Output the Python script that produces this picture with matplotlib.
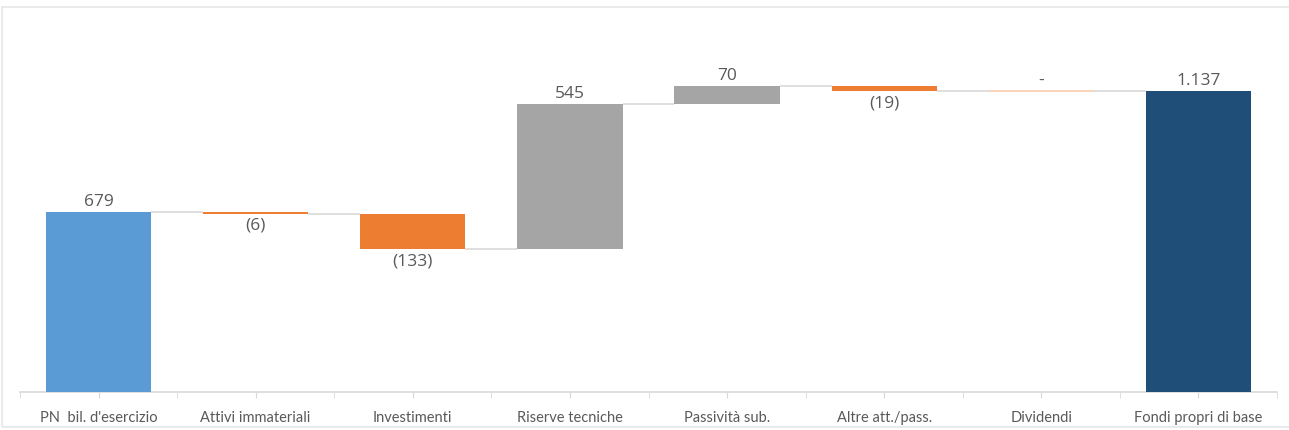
import matplotlib
matplotlib.use("Agg")
from matplotlib import pyplot as plt
from matplotlib.patches import Rectangle
import numpy as np

categorie = ["PN  bil. d'esercizio", "Attivi immateriali", "Investimenti", "Riserve tecniche",
             "Passività sub.", "Altre att./pass.", "Dividendi", "Fondi propri di base"]
valori = [679, -6, -133, 545, 70, -19, 0, 1137]
etichette = ["679", "(6)", "(133)", "545", "70", "(19)", "-", "1.137"]
tipo = ["totale", "delta", "delta", "delta", "delta", "delta", "delta", "totale"]

col_inizio = "#5B9BD5"
col_fine = "#1F4E79"
col_pos = "#A5A5A5"
col_neg = "#ED7D31"
col_testo = "#595959"
col_linea = "#D9D9D9"

plt.rcParams['font.family'] = ['Open Sans', 'DejaVu Sans']

fig = plt.figure(figsize=(12.89, 4.31), dpi=100)
ax = fig.add_axes([20/1289, 38/431, 1257/1289, 371/431])
fig.patches.append(Rectangle((2/1289, 3/431), 1.2, 420/431, transform=fig.transFigure,
                             fill=False, edgecolor="#E6E6E6", linewidth=1.2))

w = 0.67
x = np.arange(len(categorie))
livello = 0
fine_prec = None
for i, v in enumerate(valori):
    if tipo[i] == "totale":
        base, alt = 0, v
        colore = col_inizio if i == 0 else col_fine
        nuovo = v
    else:
        base, alt = livello, v
        colore = col_pos if v > 0 else col_neg
        nuovo = livello + v
    if v == 0:
        ax.hlines(livello, x[i] - w/2, x[i] + w/2, color="#F8CBAD", linewidth=1.2, zorder=3)
    else:
        ax.bar(x[i], alt, width=w, bottom=base, color=colore, zorder=3)
    # connettore dal precedente
    if fine_prec is not None:
        ax.hlines(livello, x[i-1] + w/2, x[i] - w/2, color=col_linea, linewidth=1.2, zorder=2)
    cima = max(base, base + alt)
    fondo = min(base, base + alt)
    if v >= 0:
        ax.text(x[i], cima + 12, etichette[i], ha="center", va="bottom", fontsize=12.5, color=col_testo)
    else:
        ax.text(x[i], fondo - 12, etichette[i], ha="center", va="top", fontsize=12.5, color=col_testo)
    livello = nuovo
    fine_prec = nuovo

ax.set_xlim(-0.5, len(categorie) - 0.5)
ax.set_ylim(0, 1400)
ax.set_yticks([])
ax.set_xticks(x)
ax.set_xticklabels(categorie, fontsize=10.5, color=col_testo, family=['Lato', 'DejaVu Sans'])
ax.set_xticks(np.arange(-0.5, len(categorie)), minor=True)
ax.tick_params(axis="x", which="both", length=4, color=col_linea, pad=9)
for s in ["top", "left", "right"]:
    ax.spines[s].set_visible(False)
ax.spines["bottom"].set_color(col_linea)
ax.spines["bottom"].set_linewidth(1.2)

fig.savefig("out.png", dpi=100)
